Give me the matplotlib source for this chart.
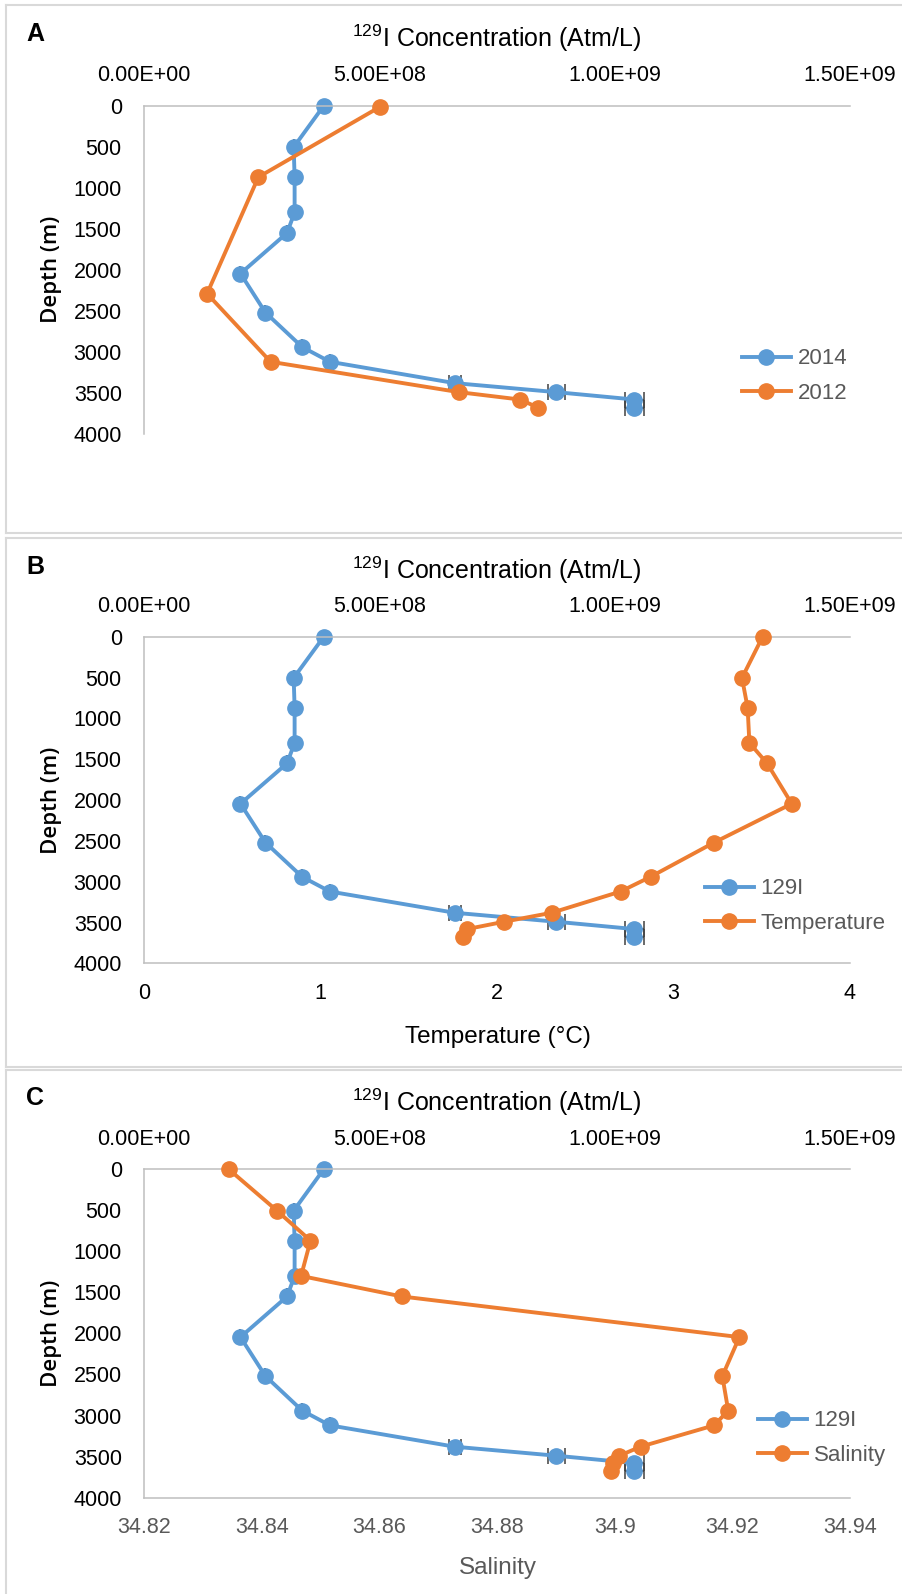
import matplotlib
matplotlib.use('Agg')
import matplotlib.pyplot as plt
from matplotlib.lines import Line2D

plt.rcParams['font.family'] = ['Liberation Sans', 'DejaVu Sans']
plt.rcParams['mathtext.default'] = 'regular'

# 2014 station (shared by all three panels)
depth = [0, 505, 870, 1300, 1550, 2045, 2520, 2940, 3120, 3380, 3490, 3580, 3680]
i129 = [0.382e9, 0.318e9, 0.320e9, 0.320e9, 0.304e9, 0.205e9, 0.258e9,
        0.336e9, 0.395e9, 0.660e9, 0.876e9, 1.042e9, 1.042e9]
i129_err = [0, 0, 0, 0, 0, 0, 0, 0, 0, 0.013e9, 0.018e9, 0.021e9, 0.021e9]
temp = [3.505, 3.388, 3.42, 3.43, 3.53, 3.67, 3.23, 2.87, 2.70, 2.31, 2.04, 1.83, 1.81]
sal = [34.8344, 34.8426, 34.8483, 34.8467, 34.8638, 34.9212, 34.9183,
       34.9193, 34.9169, 34.9044, 34.9008, 34.8997, 34.8994]

# 2012 station
depth12 = [15, 870, 2290, 3120, 3490, 3580, 3680]
i129_12 = [0.501e9, 0.243e9, 0.134e9, 0.269e9, 0.669e9, 0.799e9, 0.838e9]

conc_ticks = [0, 5e8, 1e9, 1.5e9]
conc_labels = ['0.00E+00', '5.00E+08', '1.00E+09', '1.50E+09']
depth_ticks = [0, 500, 1000, 1500, 2000, 2500, 3000, 3500, 4000]
temp_ticks = [0, 1, 2, 3, 4]
sal_ticks = [34.82, 34.84, 34.86, 34.88, 34.90, 34.92, 34.94]
sal_labels = ['34.82', '34.84', '34.86', '34.88', '34.9', '34.92', '34.94']

BLUE = '#5B9BD5'
ORANGE = '#ED7D31'
AXC = '#BFBFBF'
GREY = '#595959'
W, H = 902, 1594
TICK = 15.5

fig = plt.figure(figsize=(W / 100, H / 100), dpi=100)


def fx(x):
    return x / W


def fy(y):
    return 1 - y / H


def hline(y, x0=6, x1=902):
    fig.add_artist(Line2D([fx(x0), fx(x1)], [fy(y), fy(y)], color='#D9D9D9', lw=1.5))


def vline(x, y0, y1):
    fig.add_artist(Line2D([fx(x), fx(x)], [fy(y0), fy(y1)], color='#D9D9D9', lw=1.5))


# panel frames
hline(5); vline(6, 5, 533); hline(533)
hline(537.5); vline(6, 537.5, 1066.5); hline(1066.5)
hline(1070); vline(6, 1070, 1594)

style = dict(lw=2.8, marker='o', ms=11, clip_on=False)


def make_panel(top, bot, letter, title_y):
    ax = fig.add_axes([fx(144), fy(bot), fx(850) - fx(144), (bot - top) / H])
    ax.set_xlim(0, 1.5e9)
    ax.set_ylim(4000, 0)
    ax.set_xticks(conc_ticks)
    ax.set_xticklabels(conc_labels)
    ax.set_yticks(depth_ticks)
    ax.tick_params(axis='both', length=0, labelsize=TICK)
    ax.tick_params(axis='x', pad=14)
    ax.tick_params(axis='y', pad=16)
    for s in ['right', 'bottom']:
        ax.spines[s].set_visible(False)
    for s in ['top', 'left']:
        ax.spines[s].set_color(AXC)
        ax.spines[s].set_linewidth(1.1)
    ax.patch.set_alpha(0)
    fig.text(fx(35), fy(title_y - 4), letter, fontsize=18, fontweight='bold',
             ha='center', va='center')
    fig.text(fx(497), fy(title_y), r'$^{129}$I Concentration (Atm/L)', fontsize=18,
             ha='center', va='center')
    fig.text(fx(51), fy((top + bot) / 2), 'Depth (m)', rotation=90, fontsize=16,
             family=['Open Sans', 'DejaVu Sans'], fontweight='semibold',
             ha='center', va='center')
    ax.errorbar(i129, depth, xerr=i129_err, fmt='none', ecolor='#404040',
                elinewidth=1.1, capsize=6, capthick=1.1, zorder=1)
    h1, = ax.plot(i129, depth, color=BLUE, zorder=2, **style)
    return ax, h1


def add_bottom(ax, lim, ticks, labels, color):
    ax2 = ax.twiny()
    ax.xaxis.tick_top()
    ax2.set_xlim(*lim)
    ax2.set_xticks(ticks)
    if labels is not None:
        ax2.set_xticklabels(labels)
    ax2.xaxis.tick_bottom()
    ax2.tick_params(axis='x', length=0, labelsize=TICK, pad=14, labelcolor=color)
    for s in ['top', 'left', 'right']:
        ax2.spines[s].set_visible(False)
    ax2.spines['bottom'].set_color(AXC)
    ax2.spines['bottom'].set_linewidth(1.1)
    return ax2


def legend(handles, labels, x, y):
    fig.legend(handles, labels, loc='center left', bbox_to_anchor=(fx(x), fy(y)),
               frameon=False, borderpad=0, borderaxespad=0, fontsize=16,
               handlelength=2.2, handletextpad=0.3, labelspacing=0.6,
               labelcolor=GREY)


# A
axA, hA = make_panel(105.7, 434, 'A', 38)
axA.xaxis.tick_top()
hA12, = axA.plot(i129_12, depth12, color=ORANGE, zorder=3, **style)
legend([hA, hA12], ['2014', '2012'], 742, 376)

# B
axB, hB = make_panel(636.7, 963.4, 'B', 570.5)
axB2 = add_bottom(axB, (0, 4), temp_ticks, None, 'black')
hT, = axB2.plot(temp, depth, color=ORANGE, zorder=3, **style)
fig.text(fx(498), fy(1037), 'Temperature (°C)', fontsize=17.5, ha='center', va='center')
legend([hB, hT], ['129I', 'Temperature'], 705, 906)

# C
axC, hC = make_panel(1169.2, 1497.6, 'C', 1102)
axC2 = add_bottom(axC, (34.82, 34.94), sal_ticks, sal_labels, GREY)
hS, = axC2.plot(sal, depth, color=ORANGE, zorder=3, **style)
fig.text(fx(498), fy(1568), 'Salinity', fontsize=17.5, color=GREY, ha='center', va='center')
legend([hC, hS], ['129I', 'Salinity'], 758, 1438)

fig.savefig('out.png', dpi=100)
